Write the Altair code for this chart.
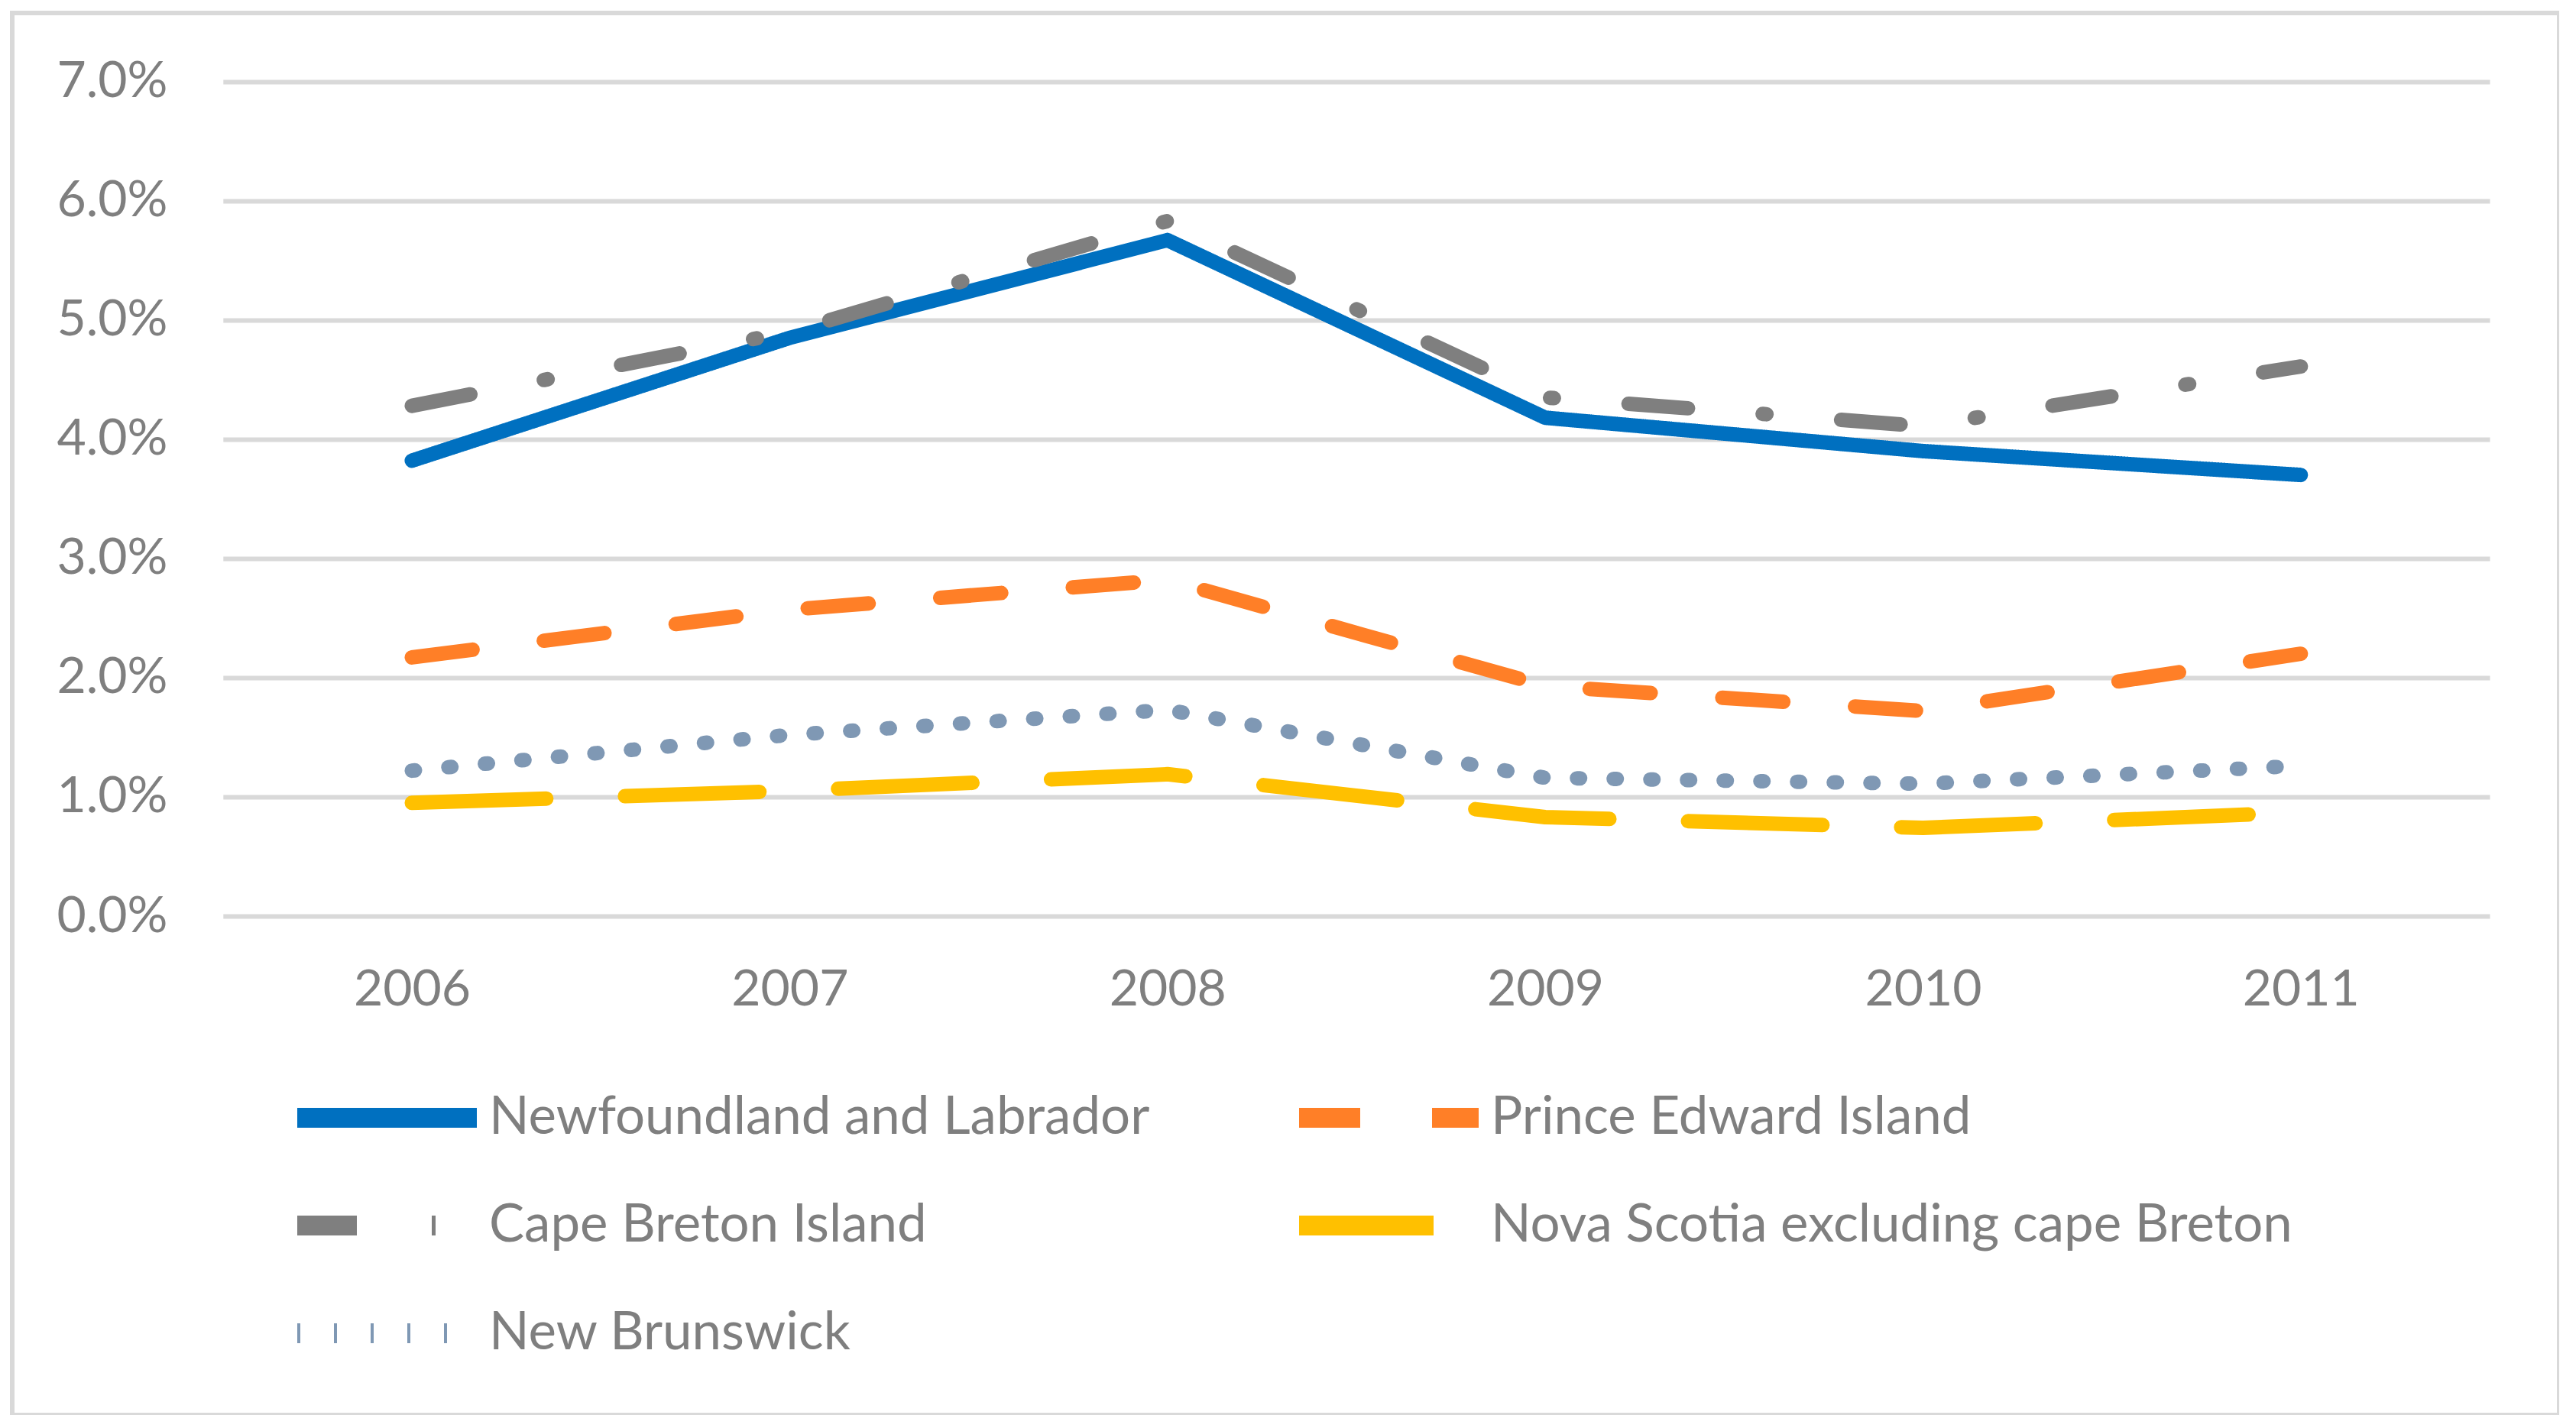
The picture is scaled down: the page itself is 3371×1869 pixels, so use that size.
import altair as alt
import pandas as pd

years = ["2006", "2007", "2008", "2009", "2010", "2011"]
series = [
    "Newfoundland and Labrador",
    "Prince Edward Island",
    "Cape Breton Island",
    "Nova Scotia excluding cape Breton",
    "New Brunswick",
]
nl = [0.0382, 0.0485, 0.0567, 0.0418, 0.0390, 0.0370]
pei = [0.0217, 0.0257, 0.0282, 0.0193, 0.0172, 0.0220]
cb = [0.0428, 0.0490, 0.0583, 0.0435, 0.0411, 0.0461]
ns = [0.0095, 0.0105, 0.0119, 0.0083, 0.0074, 0.0087]
nb = [0.0122, 0.0152, 0.0173, 0.0116, 0.0111, 0.0126]

colors = ["#0070C0", "#FF7F27", "#7F7F7F", "#FFC000", "#7F98B4"]
dashes = [[1, 0], [80, 94], [78, 98, 5, 98], [176, 103], [4, 44]]

rows = []
for name, vals in zip(series, [nl, pei, cb, ns, nb]):
    for y, v in zip(years, vals):
        rows.append({"year": y, "series": name, "value": v})
df = pd.DataFrame(rows)

legend = alt.Legend(
    title=None,
    orient="none",
    direction="horizontal",
    legendX=360,
    legendY=1416,
    columns=2,
    columnPadding=182,
    rowPadding=72,
    clipHeight=60,
    symbolType="stroke",
    symbolSize=55225,
    symbolStrokeWidth=26,
    labelFont="Lato",
    labelFontSize=69,
    labelColor="#7f7f7f",
    labelLimit=3000,
    labelOffset=3,
    padding=0,
)

chart = (
    alt.Chart(df)
    .mark_line(strokeWidth=19, strokeCap="round", strokeJoin="round")
    .encode(
        x=alt.X(
            "year:O",
            sort=years,
            scale=alt.Scale(type="point", range=[275.8, 3242], padding=0.5),
            axis=alt.Axis(
                title=None,
                grid=False,
                domain=False,
                ticks=False,
                tickSize=0,
                labelAngle=0,
                labelFont="Lato",
                labelFontSize=66,
                labelColor="#7f7f7f",
                labelBaseline="middle",
                labelPadding=0,
                offset=-557,
            ),
        ),
        y=alt.Y(
            "value:Q",
            scale=alt.Scale(domain=[0, 0.07], range=[1182, 89.7], nice=False, zero=True),
            axis=alt.Axis(
                title=None,
                values=[0, 0.01, 0.02, 0.03, 0.04, 0.05, 0.06, 0.07],
                format=".1%",
                grid=True,
                gridColor="#d9d9d9",
                gridWidth=6,
                domain=False,
                ticks=False,
                tickSize=0,
                labelFont="Lato",
                labelFontSize=66,
                labelColor="#7f7f7f",
                labelPadding=0,
                offset=-203,
            ),
        ),
        color=alt.Color(
            "series:N",
            sort=series,
            scale=alt.Scale(domain=series, range=colors),
            legend=legend,
        ),
        strokeDash=alt.StrokeDash(
            "series:N",
            sort=series,
            scale=alt.Scale(domain=series, range=dashes),
            legend=legend,
        ),
    )
    .properties(
        width=3333,
        height=1835,
        padding={"left": 8, "top": 9, "right": 0, "bottom": 0},
        background="white",
    )
    .configure_view(stroke="#d9d9d9", strokeWidth=6)
    .configure_line(strokeCap="round", strokeJoin="round")
)

chart.save("out.html", embed_options={"renderer": "svg", "actions": False})
